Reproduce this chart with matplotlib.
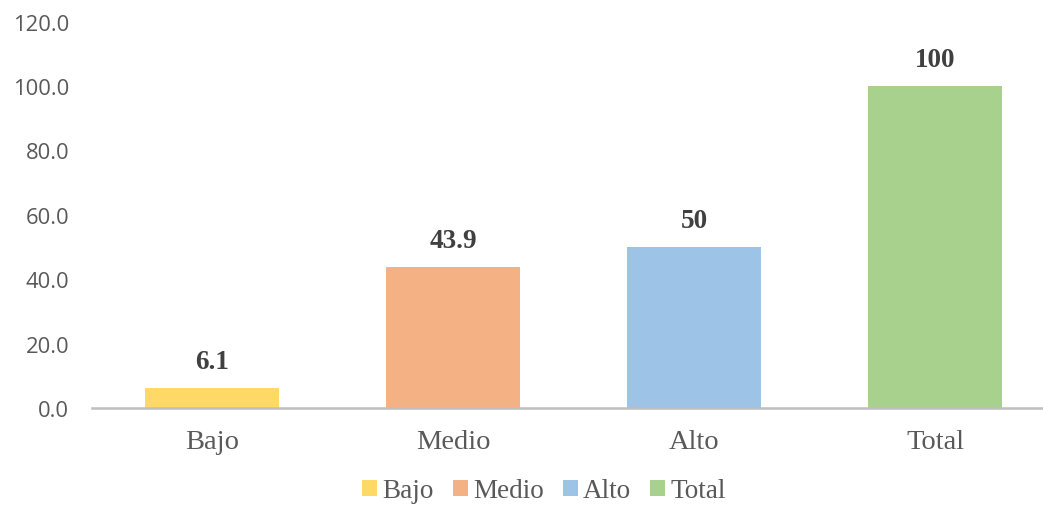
import matplotlib.pyplot as plt
from matplotlib.patches import Patch

# datos
categorias = ["Bajo", "Medio", "Alto", "Total"]
valores = [6.1, 43.9, 50, 100]
etiquetas = ["6.1", "43.9", "50", "100"]
colores = ["#FFD966", "#F4B183", "#9DC3E6", "#A9D18E"]
yticks = [0, 20, 40, 60, 80, 100, 120]

fig = plt.figure(figsize=(10.43, 5.06), dpi=100)
ax = fig.add_axes([91.5 / 1043, 97 / 506, 964 / 1043, 386.4 / 506])

x = range(len(categorias))
barras = ax.bar(x, valores, width=0.556, color=colores, zorder=2)

for b, t in zip(barras, etiquetas):
    ax.annotate(t, (b.get_x() + b.get_width() / 2, b.get_height()),
                xytext=(0, 10), textcoords="offset points",
                ha="center", va="bottom", fontsize=19.5, fontweight="bold",
                family="Liberation Serif", color="#404040")

ax.set_xlim(-0.5, 3.5)
ax.set_ylim(0, 120)
ax.set_yticks(yticks)
ax.set_yticklabels([f"{v:.1f}" for v in yticks], family="Open Sans",
                   fontsize=15.8, color="#595959")
ax.set_xticks(list(x))
ax.set_xticklabels(categorias, family="Liberation Serif", fontsize=20.5,
                   color="#595959")
ax.tick_params(axis="y", length=0, pad=16)
ax.tick_params(axis="x", length=0, pad=15)

for s in ["top", "right", "left"]:
    ax.spines[s].set_visible(False)
ax.spines["bottom"].set_color("#BFBFBF")
ax.spines["bottom"].set_linewidth(1.8)
ax.spines["bottom"].set_zorder(3)

# leyenda
handles = [Patch(facecolor=c, edgecolor="none") for c in colores]
fig.legend(handles, categorias, loc="center", bbox_to_anchor=(544 / 1043, 1 - 492 / 506),
           ncol=4, frameon=False, handlelength=0.55, handleheight=0.55,
           handletextpad=0.2, columnspacing=0.7,
           prop={"family": "Liberation Serif", "size": 19.5},
           labelcolor="#595959", borderpad=0.1)

fig.savefig("out.png", dpi=100)
